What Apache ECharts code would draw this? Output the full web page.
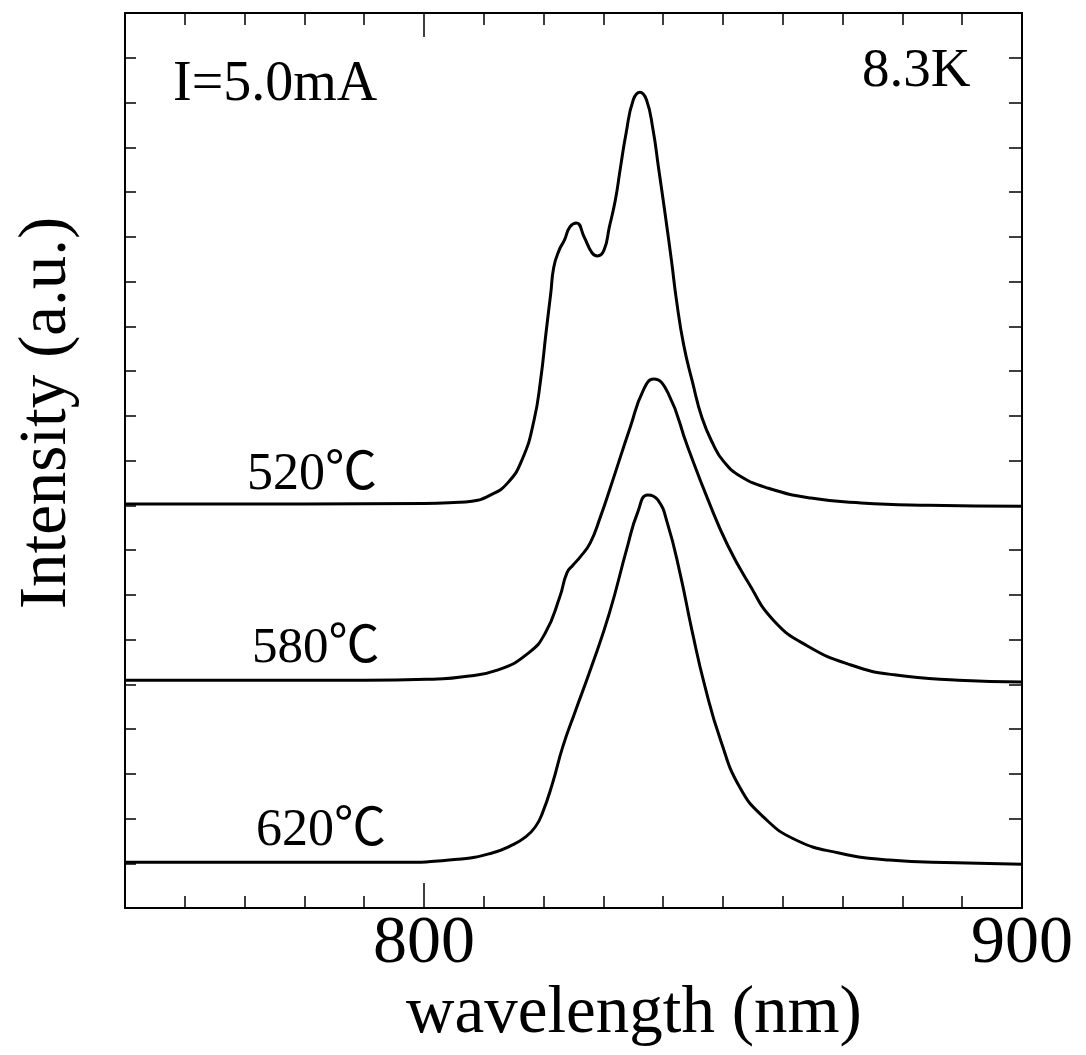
<!DOCTYPE html>
<html>
<head>
<meta charset="utf-8">
<title>Intensity vs wavelength</title>
<script src="https://cdn.jsdelivr.net/npm/echarts@6.0.0/dist/echarts.min.js"></script>
<style>
  html, body { margin: 0; padding: 0; background: #fff; }
  #chart { width: 1086px; height: 1055px; }
</style>
</head>
<body>
<div id="chart"></div>
<script>
  // spectra, stacked with offsets (a.u.)
  var wl520 = [750, 780, 800, 805, 808, 811, 814, 816.5, 818.4, 819.5, 820.4, 821.2, 821.7, 822.6, 823.5, 824.4, 825.5, 826.8, 828.1, 829.0, 830.1, 831.0, 832.0, 832.8, 833.8, 835.0, 836.1, 837.2, 838.3, 839.2, 840.3, 841.4, 842.2, 843.4, 844.9, 846.5, 848.4, 850.1, 852.9, 857.6, 864.7, 873.1, 884.4, 900];
  var in520 = [9.03, 9.03, 9.04, 9.06, 9.09, 9.22, 9.5, 10.05, 10.9, 11.8, 12.85, 13.74, 14.32, 14.7, 14.93, 15.22, 15.31, 14.99, 14.64, 14.57, 14.7, 15.22, 15.82, 16.5, 17.32, 18.06, 18.23, 18.06, 17.39, 16.56, 15.53, 14.45, 13.6, 12.6, 11.75, 10.95, 10.35, 9.98, 9.65, 9.38, 9.16, 9.05, 9.0, 8.98];

  var wl580 = [750, 790, 802.3, 806.2, 812.4, 817.5, 820.3, 822.7, 823.9, 824.9, 826.1, 827.8, 829.5, 831.2, 834.5, 836.7, 838.4, 840.8, 844.1, 847.5, 850.8, 854.2, 858.5, 864.2, 871.4, 878.6, 889.4, 900];
  var in580 = [5.09, 5.09, 5.12, 5.16, 5.32, 5.70, 6.15, 6.95, 7.49, 7.66, 7.84, 8.16, 8.74, 9.41, 10.75, 11.58, 11.82, 11.51, 10.3, 9.12, 8.1, 7.28, 6.42, 5.85, 5.43, 5.21, 5.09, 5.05];

  var wl620 = [750, 795, 805.8, 811.4, 814.8, 817.0, 818.6, 819.8, 821.5, 823.2, 825.2, 828.0, 831.0, 834.0, 835.7, 837.4, 839.1, 840.7, 842.8, 844.8, 847.0, 849.6, 852.8, 856.8, 862.2, 869.4, 877.8, 889.0, 900];
  var in620 = [1.02, 1.02, 1.09, 1.23, 1.41, 1.59, 1.81, 2.12, 2.79, 3.6, 4.36, 5.39, 6.59, 8.07, 8.83, 9.23, 9.12, 8.6, 7.49, 6.21, 4.94, 3.75, 2.70, 2.03, 1.52, 1.23, 1.07, 1.01, 0.98];

  var seriesNames = ['520℃', '580℃', '620℃'];
  var xLabels = [800, 900];
  var xMajorTicks = [800];

  var serif = '"Liberation Serif", "Noto Sans CJK JP", serif';

  function pairs(xs, ys) {
    return xs.map(function (x, i) { return [x, ys[i]]; });
  }

  function lineSeries(name, xs, ys) {
    return {
      name: name,
      type: 'line',
      data: pairs(xs, ys),
      showSymbol: false,
      smooth: 0.5,
      lineStyle: { color: '#000', width: 3 },
      animation: false
    };
  }

  function xAxisBase(pos) {
    return {
      type: 'value',
      position: pos,
      min: 750,
      max: 900,
      splitLine: { show: false },
      axisLabel: { show: false }
    };
  }

  function label(text, x, y, size) {
    return {
      type: 'text',
      x: x,
      y: y,
      style: {
        text: text,
        font: size + 'px ' + serif,
        fill: '#000',
        align: 'left',
        verticalAlign: 'middle'
      }
    };
  }

  var myChart = echarts.init(document.getElementById('chart'));

  var minorX = xAxisBase('bottom');
  minorX.interval = 10;
  minorX.axisLine = { show: true, lineStyle: { color: '#000', width: 2 } };
  minorX.axisTick = { inside: true, length: 12, lineStyle: { color: '#000', width: 1.5 } };

  var majorX = xAxisBase('bottom');
  majorX.interval = 50;
  majorX.axisLine = { show: false };
  majorX.axisTick = { inside: true, length: 25, customValues: xMajorTicks, lineStyle: { color: '#000', width: 1.5 } };
  majorX.axisLabel = { show: true, customValues: xLabels, color: '#000', fontSize: 68, fontFamily: serif, margin: 2 };

  var minorTop = xAxisBase('top');
  minorTop.interval = 10;
  minorTop.axisLine = { show: true, lineStyle: { color: '#000', width: 2 } };
  minorTop.axisTick = { inside: true, length: 12, lineStyle: { color: '#000', width: 1.5 } };

  var majorTop = xAxisBase('top');
  majorTop.interval = 50;
  majorTop.axisLine = { show: false };
  majorTop.axisTick = { inside: true, length: 24, customValues: xMajorTicks, lineStyle: { color: '#000', width: 1.5 } };

  var option = {
    backgroundColor: '#fff',
    grid: { left: 125, right: 64, top: 13, bottom: 147 },
    xAxis: [minorX, majorX, minorTop, majorTop],
    yAxis: [{
      type: 'value',
      position: 'left',
      min: 0,
      max: 20,
      interval: 1,
      splitLine: { show: false },
      axisLabel: { show: false },
      axisLine: { show: true, lineStyle: { color: '#000', width: 2 } },
      axisTick: { inside: true, length: 11, lineStyle: { color: '#000', width: 1.5 } }
    }, {
      type: 'value',
      position: 'right',
      min: 0,
      max: 20,
      interval: 1,
      splitLine: { show: false },
      axisLabel: { show: false },
      axisLine: { show: true, lineStyle: { color: '#000', width: 2 } },
      axisTick: { inside: true, length: 13, lineStyle: { color: '#000', width: 1.5 } }
    }],
    series: [
      lineSeries(seriesNames[0], wl520, in520),
      lineSeries(seriesNames[1], wl580, in580),
      lineSeries(seriesNames[2], wl620, in620)
    ],
    graphic: [
      label('I=5.0mA', 173, 85, 56),
      label('8.3K', 862, 72, 55),
      label(seriesNames[0], 247, 475, 52),
      label(seriesNames[1], 252, 649, 51),
      label(seriesNames[2], 256, 831, 52),
      {
        type: 'text',
        x: 634,
        y: 1014,
        style: {
          text: 'wavelength (nm)',
          font: '67px ' + serif,
          fill: '#000',
          align: 'center',
          verticalAlign: 'middle'
        }
      },
      {
        type: 'text',
        x: 47,
        y: 413,
        rotation: Math.PI / 2,
        style: {
          text: 'Intensity (a.u.)',
          font: '67px ' + serif,
          fill: '#000',
          align: 'center',
          verticalAlign: 'middle'
        }
      }
    ]
  };
  myChart.setOption(option);
</script>
</body>
</html>
